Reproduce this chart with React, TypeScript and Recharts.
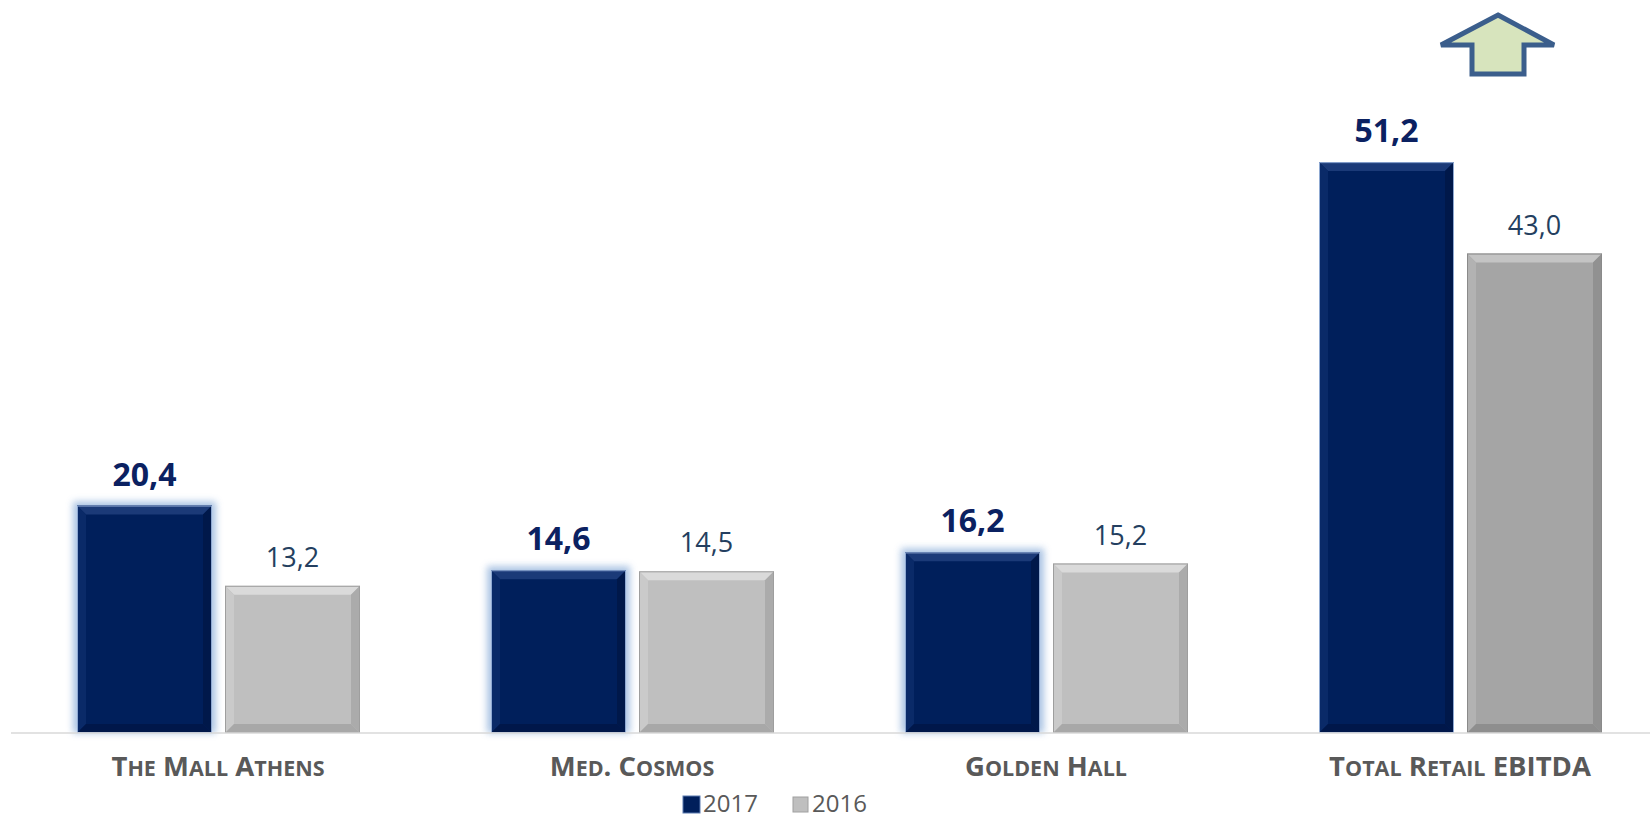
import React from 'react';
import { BarChart, Bar, XAxis, YAxis, LabelList } from 'recharts';

// ─── Data ─────────────────────────────────────────────────────────────────────

const categories = ['The Mall Athens', 'Med. Cosmos', 'Golden Hall', 'Total Retail EBITDA'];
const values2017 = [20.4, 14.6, 16.2, 51.2];
const values2016 = [13.2, 14.5, 15.2, 43.0];

const rows = categories.map((name, i) => ({
  name,
  y2017: values2017[i],
  y2016: values2016[i],
}));

// ─── Styles ───────────────────────────────────────────────────────────────────

const FONT = '"Open Sans", "DejaVu Sans", sans-serif';
const NAVY = { base: '#001F5B', top: '#1B3A78', left: '#0A2A68', right: '#00184A', bottom: '#00174A', edge: '#8FA9D2' };
const GRAY_LIGHT = { base: '#BFBFBF', top: '#DADADA', left: '#CACACA', right: '#ABABAB', bottom: '#A8A8A8', edge: '#9E9E9E' };
const GRAY_DARK = { base: '#A5A5A5', top: '#C4C4C4', left: '#B2B2B2', right: '#919191', bottom: '#8E8E8E', edge: '#8A8A8A' };

const fmt = (v: number) => v.toFixed(1).replace('.', ',');

// ─── Bar shape with bevel ─────────────────────────────────────────────────────

function BevelBar(props: any) {
  const { x, y, width: w, height: h, index, palette, glow } = props;
  if (!w || !h) return null;
  const p = palette(index);
  const b = Math.min(9, w / 4, h / 4);
  const id = `glow-${props.dataKey}-${index}`;
  return (
    <g>
      {glow(index) && (
        <>
          <defs>
            <filter id={id} x="-20%" y="-20%" width="140%" height="140%">
              <feGaussianBlur stdDeviation="3.5" />
            </filter>
          </defs>
          <rect x={x - 4} y={y - 4} width={w + 8} height={h + 4} fill="#8FB0DA" opacity={0.75} filter={`url(#${id})`} />
        </>
      )}
      <rect x={x} y={y} width={w} height={h} fill={p.base} />
      <polygon points={`${x},${y} ${x + w},${y} ${x + w - b},${y + b} ${x + b},${y + b}`} fill={p.top} />
      <polygon points={`${x},${y} ${x + b},${y + b} ${x + b},${y + h - b} ${x},${y + h}`} fill={p.left} />
      <polygon points={`${x + w},${y} ${x + w},${y + h} ${x + w - b},${y + h - b} ${x + w - b},${y + b}`} fill={p.right} />
      <polygon points={`${x},${y + h} ${x + b},${y + h - b} ${x + w - b},${y + h - b} ${x + w},${y + h}`} fill={p.bottom} />
      <rect x={x + 0.5} y={y + 0.5} width={w - 1} height={h - 1} fill="none" stroke={p.edge} strokeWidth={1} />
    </g>
  );
}

// ─── Small caps tick ──────────────────────────────────────────────────────────

function SmallCapsTick({ x, y, payload }: any) {
  const text: string = payload.value;
  const runs: { lower: boolean; s: string }[] = [];
  for (const ch of text) {
    const lower = ch !== ch.toUpperCase();
    const last = runs[runs.length - 1];
    if (last && last.lower === lower) last.s += ch;
    else runs.push({ lower, s: ch });
  }
  return (
    <text x={x} y={y + 43} textAnchor="middle" fontFamily={FONT} fontWeight={700} fill="#595959">
      {runs.map((r, i) => (
        <tspan key={i} fontSize={r.lower ? 21.5 : 27.5}>
          {r.lower ? r.s.toUpperCase() : r.s}
        </tspan>
      ))}
    </text>
  );
}

// ─── Component ────────────────────────────────────────────────────────────────

export default function App() {
  return (
    <div style={{ position: 'relative', width: 1650, height: 819, overflow: 'hidden', background: '#fff' }}>
      <style>{'body{margin:0}'}</style>
      <BarChart
        width={1667}
        height={819}
        data={rows}
        margin={{ top: 64, right: 0, bottom: 0, left: 11 }}
        barSize={135}
        barGap={13}
      >
        <XAxis
          dataKey="name"
          interval={0}
          height={86}
          tickLine={false}
          tickSize={0}
          tickMargin={0}
          axisLine={{ stroke: '#D9D9D9', strokeWidth: 1.5 }}
          tick={<SmallCapsTick />}
        />
        <YAxis hide domain={[0, 60]} />
        <Bar
          dataKey="y2017"
          isAnimationActive={false}
          shape={<BevelBar palette={() => NAVY} glow={(i: number) => i < 3} />}
        >
          <LabelList
            dataKey="y2017"
            position="top"
            offset={20}
            formatter={(v: any) => fmt(Number(v))}
            style={{ fill: '#0B2161', fontSize: 32, fontWeight: 700, fontFamily: FONT }}
          />
        </Bar>
        <Bar
          dataKey="y2016"
          isAnimationActive={false}
          shape={<BevelBar palette={(i: number) => (i === 3 ? GRAY_DARK : GRAY_LIGHT)} glow={() => false} />}
        >
          <LabelList
            dataKey="y2016"
            position="top"
            offset={19}
            formatter={(v: any) => fmt(Number(v))}
            style={{ fill: '#243F60', fontSize: 27, fontWeight: 400, fontFamily: FONT }}
          />
        </Bar>
      </BarChart>

      {/* Arrow + legend overlay */}
      <svg width={1650} height={819} style={{ position: 'absolute', left: 0, top: 0, pointerEvents: 'none' }}>
        <polygon
          points="1498,15 1554,45 1524,45 1524,74 1472,74 1472,45 1441,45"
          fill="#D7E4BD"
          stroke="#3B5E8C"
          strokeWidth={5}
          strokeLinejoin="miter"
        />
        <g fontFamily={FONT} fontSize={24} fill="#595959">
          <rect x={683} y={796} width={17} height={17} fill="#001F5B" stroke="#5B7BB0" strokeWidth={1} />
          <text x={703} y={812}>2017</text>
          <rect x={793} y={797} width={15} height={15} fill="#BFBFBF" stroke="#A0A0A0" strokeWidth={1} />
          <text x={812} y={812}>2016</text>
        </g>
      </svg>
    </div>
  );
}
